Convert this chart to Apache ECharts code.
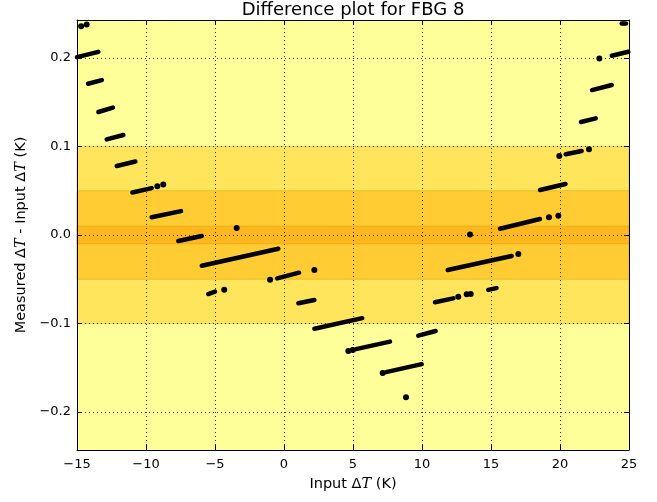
<!DOCTYPE html>
<html>
<head>
<meta charset="utf-8">
<script src="https://cdn.jsdelivr.net/npm/echarts@6/dist/echarts.min.js"></script>
<style>html,body{margin:0;padding:0;background:#fff}#c{width:657px;height:502px}</style>
</head>
<body>
<div id="c"></div>
<script>
// Line segments of densely packed measurements (start/end points)
const segX0 = [-15.0, -14.2, -13.45, -12.85, -12.12, -10.99, -9.59, -7.66, -5.96, -5.49, -0.49, 1.04, 2.2, 5.22, 7.39, 9.73, 10.94, 14.8, 11.86, 15.65, 18.55, 20.41, 21.52, 22.32, 23.75, 24.47];
const segY0 = [0.201, 0.171, 0.139, 0.108, 0.078, 0.048, 0.020, -0.0068, -0.0347, -0.0667, -0.049, -0.0772, -0.106, -0.129, -0.155, -0.1138, -0.076, -0.062, -0.0395, 0.0071, 0.0508, 0.0912, 0.1277, 0.1638, 0.2026, 0.239];
const segX1 = [-13.45, -13.2, -12.4, -11.64, -10.77, -9.59, -7.46, -5.96, -0.41, -5.0, 1.09, 2.2, 5.67, 7.68, 9.98, 10.99, 12.27, 15.4, 16.5, 18.55, 20.4, 21.57, 22.59, 23.75, 24.95, 24.78];
const segY1 = [0.207, 0.175, 0.144, 0.113, 0.083, 0.053, 0.027, -0.0011, -0.0155, -0.064, -0.0426, -0.0734, -0.094, -0.1205, -0.146, -0.1085, -0.0716, -0.060, -0.0237, 0.0181, 0.0576, 0.0949, 0.1318, 0.1695, 0.2071, 0.239];
// Isolated measurements
const dotX = [-14.7, -14.3, -9.18, -8.75, -3.43, -1.01, 2.2, -4.33, 4.66, 4.98, 7.15, 8.84, 12.63, 13.24, 13.53, 13.48, 16.98, 19.2, 19.88, 19.95, 22.1, 22.85];
const dotY = [0.236, 0.238, 0.055, 0.057, 0.0079, -0.0505, -0.0395, -0.062, -0.131, -0.130, -0.156, -0.1835, -0.0697, -0.067, -0.0667, 0.0005, -0.0215, 0.020, 0.0218, 0.0893, 0.0968, 0.1996];
// Tolerance bands (half-widths)
const bandLimits = [0.243, 0.1, 0.05, 0.01];
const bandColors = ['#ffff99', '#ffe55c', '#ffcc33', '#ffb71f'];
const xTicks = [-15, -10, -5, 0, 5, 10, 15, 20, 25];
const yTicks = [-0.2, -0.1, 0.0, 0.1, 0.2];

const FONT = 'DejaVu Sans';
const chart = echarts.init(document.getElementById('c'), null, {renderer: 'canvas'});
const minus = s => String(s).replace('-', '\u2212');

const series = [];
series.push({
  type: 'scatter', data: [], silent: true,
  markArea: {
    silent: true, z: 1,
    data: bandLimits.map((b, i) => [
      {yAxis: -b, itemStyle: {color: bandColors[i], borderColor: i === 0 ? 'transparent' : 'rgba(190,140,0,0.35)', borderWidth: i === 0 ? 0 : 1}},
      {yAxis: b}
    ])
  }
});
for (let i = 0; i < segX0.length; i++) {
  series.push({
    type: 'line', silent: true, showSymbol: false, z: 3,
    data: [[segX0[i], segY0[i]], [segX1[i], segY1[i]]],
    lineStyle: {color: '#000', width: 4.5, cap: 'round', opacity: 1}
  });
}
series.push({
  type: 'scatter', silent: true, z: 4, symbolSize: 6,
  data: dotX.map((x, i) => [x, dotY[i]]),
  itemStyle: {color: '#000', opacity: 1}
});

const axisCommon = {
  z: 1.5,
  axisLine: {show: true, onZero: false, lineStyle: {color: '#000', width: 1}},
  axisTick: {show: true, inside: true, length: 5, lineStyle: {color: '#000'}},
  axisLabel: {fontFamily: FONT, fontSize: 13, color: '#000'}
};
const nameStyle = {fontFamily: FONT, fontSize: 14.5, color: '#000',
  rich: {i: {fontFamily: 'DejaVu Serif', fontStyle: 'italic', fontSize: 14.5, color: '#000'}}};

chart.setOption({
  animation: false,
  backgroundColor: '#fff',
  title: {
    text: 'Difference plot for FBG 8', left: 353, textAlign: 'center', top: 1, padding: 0,
    textStyle: {fontFamily: FONT, fontSize: 18, fontWeight: 'normal', color: '#000'}
  },
  grid: {left: 77, right: 28, top: 20, bottom: 52},
  xAxis: [
    Object.assign({}, axisCommon, {
      type: 'value', min: -15, max: 25, interval: 5, position: 'bottom',
      axisLabel: Object.assign({}, axisCommon.axisLabel, {margin: 8, formatter: v => minus(v)}),
      splitLine: {show: true, lineStyle: {color: '#000', type: [1, 3], width: 0.8}},
      name: 'Input \u0394{i|T} (K)', nameLocation: 'middle', nameGap: 27,
      nameTextStyle: nameStyle
    }),
    Object.assign({}, axisCommon, {
      type: 'value', min: -15, max: 25, interval: 5, position: 'top',
      axisLabel: {show: false}, splitLine: {show: false}
    })
  ],
  yAxis: [
    Object.assign({}, axisCommon, {
      type: 'value', min: -0.243, max: 0.243, position: 'left',
      axisTick: Object.assign({}, axisCommon.axisTick, {customValues: yTicks}),
      axisLabel: Object.assign({}, axisCommon.axisLabel, {margin: 6, customValues: yTicks, formatter: v => minus(Number(v).toFixed(1))}),
      splitLine: {show: true, lineStyle: {color: '#000', type: [1, 3], width: 0.8}},
      name: 'Measured \u0394{i|T} - Input \u0394{i|T} (K)', nameLocation: 'middle', nameGap: 48,
      nameTextStyle: nameStyle
    }),
    Object.assign({}, axisCommon, {
      type: 'value', min: -0.243, max: 0.243, position: 'right',
      axisTick: Object.assign({}, axisCommon.axisTick, {customValues: yTicks}),
      axisLabel: {show: false, customValues: yTicks}, splitLine: {show: false}
    })
  ],
  series: series
});
</script>
</body>
</html>
